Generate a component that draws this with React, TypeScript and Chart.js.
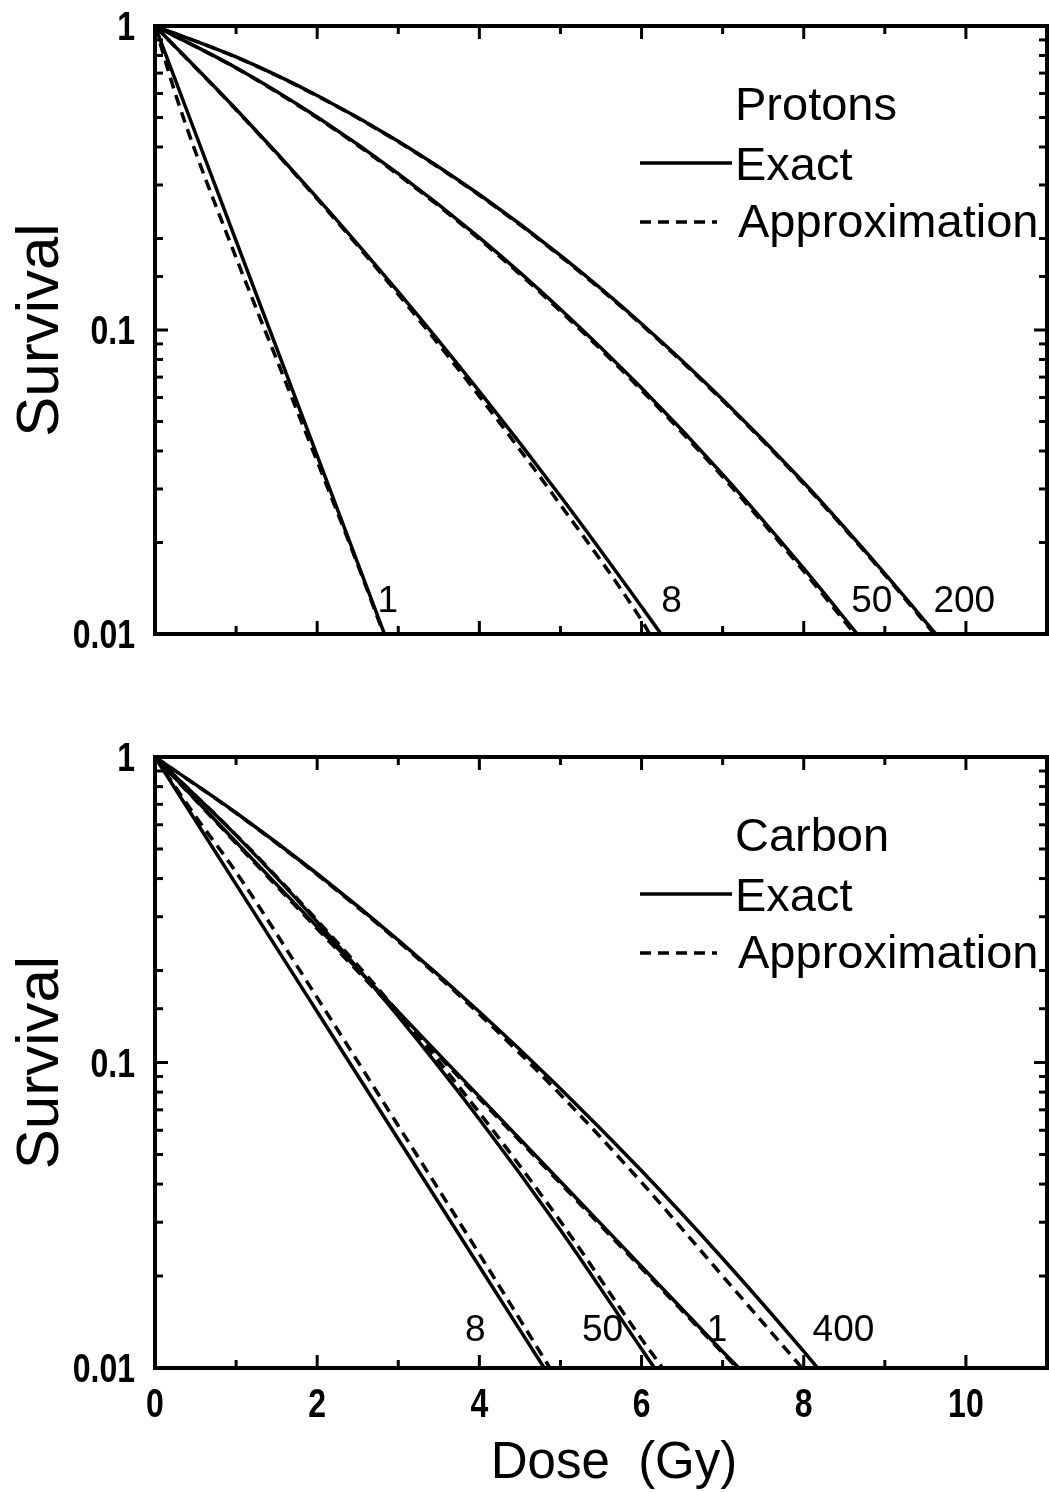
import React, { useEffect, useRef } from "react";
import { Chart, registerables } from "chart.js";

Chart.register(...registerables);

// ---- axes ----
const DOSE_MIN = 0;
const DOSE_MAX = 11;
const DOSE_TICKS = [0, 2, 4, 6, 8, 10];
const SURVIVAL_MIN = 0.01;
const SURVIVAL_MAX = 1;
const SURVIVAL_LABELS = [1, 0.1, 0.01];

// ---- protons: exact and approximate survival curves ----
const P_EXACT_1_DOSE = [0, 0.5, 1, 1.5, 2, 2.5, 2.83];
const P_EXACT_1 = [1, 0.443, 0.1965, 0.0871, 0.0386, 0.0171, 0.01];
const P_APPROX_1_DOSE = [0, 0.25, 0.5, 1, 1.5, 2, 2.5, 2.82];
const P_APPROX_1 = [1, 0.6, 0.385, 0.173, 0.08, 0.037, 0.0169, 0.01];

const P_EXACT_8_DOSE = [0, 1, 2, 3, 4, 5, 6, 6.24];
const P_EXACT_8 = [1, 0.532, 0.272, 0.1334, 0.0628, 0.0284, 0.0123, 0.01];
const P_APPROX_8_DOSE = [0, 1, 2, 3, 4, 5, 6, 6.1];
const P_APPROX_8 = [1, 0.53, 0.27, 0.131, 0.0605, 0.0266, 0.0111, 0.01];

const P_EXACT_50_DOSE = [0, 1, 2, 3, 4, 5, 6, 7, 8, 8.66];
const P_EXACT_50 = [1, 0.729, 0.502, 0.327, 0.2013, 0.1171, 0.0644, 0.0335, 0.01643, 0.01];
const P_APPROX_50_DOSE = [0, 1, 2, 3, 4, 5, 6, 7, 8, 8.63];
const P_APPROX_50 = [1, 0.727, 0.499, 0.324, 0.199, 0.1155, 0.0634, 0.0329, 0.0161, 0.01];

const P_EXACT_200_DOSE = [0, 1, 2, 3, 4, 5, 6, 7, 8, 9, 9.63];
const P_EXACT_200 = [1, 0.791, 0.591, 0.418, 0.279, 0.176, 0.1049, 0.0591, 0.0315, 0.0158, 0.01];
const P_APPROX_200_DOSE = [0, 1, 2, 3, 4, 5, 6, 7, 8, 9, 9.61];
const P_APPROX_200 = [1, 0.79, 0.589, 0.416, 0.2775, 0.1748, 0.1041, 0.0586, 0.0312, 0.01565, 0.01];

const PROTON_CURVE_LABELS = ["1", "8", "50", "200"];
const PROTON_LABEL_DOSE = [2.87, 6.37, 8.84, 9.98];
const PROTON_LABEL_SURVIVAL = 0.0128;

// ---- carbon: exact and approximate survival curves ----
const C_EXACT_8_DOSE = [0, 1, 2, 3, 4, 4.8];
const C_EXACT_8 = [1, 0.383, 0.1466, 0.0561, 0.0215, 0.01];
const C_APPROX_8_DOSE = [0, 0.5, 1, 2, 3, 4, 4.87];
const C_APPROX_8 = [1, 0.64, 0.42, 0.163, 0.0621, 0.0236, 0.01];

const C_EXACT_50_DOSE = [0, 1, 2, 3, 4, 5, 6, 6.16];
const C_EXACT_50 = [1, 0.554, 0.2887, 0.1415, 0.0652, 0.0283, 0.01154, 0.01];
const C_APPROX_50_DOSE = [0, 1, 2, 3, 4, 5, 6, 6.26];
const C_APPROX_50 = [1, 0.556, 0.292, 0.146, 0.0685, 0.0302, 0.01245, 0.01];

const C_EXACT_1_DOSE = [0, 1, 2, 3, 4, 5, 6, 7, 7.2];
const C_EXACT_1 = [1, 0.527, 0.278, 0.1466, 0.0773, 0.0408, 0.0215, 0.01133, 0.01];
const C_APPROX_1_DOSE = [0, 1, 2, 3, 4, 5, 6, 7, 7.18];
const C_APPROX_1 = [1, 0.522, 0.274, 0.1445, 0.0762, 0.0402, 0.0212, 0.0112, 0.01];

const C_EXACT_400_DOSE = [0, 1, 2, 3, 4, 5, 6, 7, 8, 8.17];
const C_EXACT_400 = [1, 0.657, 0.4148, 0.2516, 0.1466, 0.0821, 0.0442, 0.02282, 0.01133, 0.01];
const C_APPROX_400_DOSE = [0, 1, 2, 3, 4, 5, 6, 7, 7.98];
const C_APPROX_400 = [1, 0.655, 0.412, 0.249, 0.144, 0.0785, 0.0405, 0.02, 0.01];

const CARBON_CURVE_LABELS = ["8", "50", "1", "400"];
const CARBON_LABEL_DOSE = [3.95, 5.52, 6.93, 8.49];
const CARBON_LABEL_SURVIVAL = 0.0132;

const FONT = "'Liberation Sans', Arial, sans-serif";
const DASH = [11, 7];

type Curve = { dose: number[]; survival: number[]; dashed: boolean };

const pts = (dose: number[], s: number[]) => dose.map((d, i) => ({ x: d, y: s[i] }));

const PROTON_CURVES: Curve[] = [
  { dose: P_APPROX_1_DOSE, survival: P_APPROX_1, dashed: true },
  { dose: P_APPROX_8_DOSE, survival: P_APPROX_8, dashed: true },
  { dose: P_APPROX_50_DOSE, survival: P_APPROX_50, dashed: true },
  { dose: P_APPROX_200_DOSE, survival: P_APPROX_200, dashed: true },
  { dose: P_EXACT_1_DOSE, survival: P_EXACT_1, dashed: false },
  { dose: P_EXACT_8_DOSE, survival: P_EXACT_8, dashed: false },
  { dose: P_EXACT_50_DOSE, survival: P_EXACT_50, dashed: false },
  { dose: P_EXACT_200_DOSE, survival: P_EXACT_200, dashed: false },
];

const CARBON_CURVES: Curve[] = [
  { dose: C_APPROX_8_DOSE, survival: C_APPROX_8, dashed: true },
  { dose: C_APPROX_50_DOSE, survival: C_APPROX_50, dashed: true },
  { dose: C_APPROX_1_DOSE, survival: C_APPROX_1, dashed: true },
  { dose: C_APPROX_400_DOSE, survival: C_APPROX_400, dashed: true },
  { dose: C_EXACT_8_DOSE, survival: C_EXACT_8, dashed: false },
  { dose: C_EXACT_50_DOSE, survival: C_EXACT_50, dashed: false },
  { dose: C_EXACT_1_DOSE, survival: C_EXACT_1, dashed: false },
  { dose: C_EXACT_400_DOSE, survival: C_EXACT_400, dashed: false },
];

type PanelSpec = {
  ion: string;
  curves: Curve[];
  labels: string[];
  labelDose: number[];
  labelSurvival: number;
  canvasTop: number;
  height: number;
  areaTop: number;
  areaBottom: number;
  showDose: boolean;
};

const PANELS: PanelSpec[] = [
  {
    ion: "Protons",
    curves: PROTON_CURVES,
    labels: PROTON_CURVE_LABELS,
    labelDose: PROTON_LABEL_DOSE,
    labelSurvival: PROTON_LABEL_SURVIVAL,
    canvasTop: 0,
    height: 700,
    areaTop: 26,
    areaBottom: 634,
    showDose: false,
  },
  {
    ion: "Carbon",
    curves: CARBON_CURVES,
    labels: CARBON_CURVE_LABELS,
    labelDose: CARBON_LABEL_DOSE,
    labelSurvival: CARBON_LABEL_SURVIVAL,
    canvasTop: 700,
    height: 792,
    areaTop: 57,
    areaBottom: 668,
    showDose: true,
  },
];

const isDecade = (v: number) => Math.abs(Math.log10(v) - Math.round(Math.log10(v))) < 1e-6;

// Narrow, heavy digits for the axis numbers.
const TICK_FONT = `bold 40px ${FONT}`;
const TICK_SQUEEZE = 0.8;

// Frame with inward ticks on all four sides, tick numbers, legend,
// curve labels and axis titles.
const decorPlugin = {
  id: "decor",
  afterDatasetsDraw(chart: any, _args: any, opts: any) {
    const { ctx, chartArea } = chart;
    const { left, right, top, bottom } = chartArea;
    const x = chart.scales.x;
    const y = chart.scales.y;
    ctx.save();
    ctx.strokeStyle = "#000";
    ctx.fillStyle = "#000";
    ctx.lineCap = "butt";

    const seg = (x0: number, y0: number, x1: number, y1: number) => {
      ctx.beginPath();
      ctx.moveTo(x0, y0);
      ctx.lineTo(x1, y1);
      ctx.stroke();
    };
    const squeezed = (txt: string, px: number, py: number, align: string) => {
      ctx.save();
      ctx.translate(px, py);
      ctx.scale(TICK_SQUEEZE, 1);
      ctx.textAlign = align;
      ctx.textBaseline = "alphabetic";
      ctx.font = TICK_FONT;
      ctx.fillText(txt, 0, 0);
      ctx.restore();
    };

    // ticks
    ctx.lineWidth = 3;
    for (let v = Math.floor(x.min) + 1; v < x.max; v += 1) {
      const px = x.getPixelForValue(v);
      const len = v % 2 === 0 ? 13 : 8;
      seg(px, bottom, px, bottom - len);
      seg(px, top, px, top + len);
    }
    y.ticks.forEach((t: any) => {
      const v = t.value;
      if (v <= y.min * 1.0001 || v >= y.max * 0.9999) return;
      const py = y.getPixelForValue(v);
      const len = isDecade(v) ? 13 : 8;
      seg(left, py, left + len, py);
      seg(right, py, right - len, py);
    });

    // frame
    ctx.lineWidth = 4;
    ctx.strokeRect(left, top, right - left, bottom - top);

    // tick numbers
    SURVIVAL_LABELS.forEach((v) => {
      squeezed(String(v), left - 20, y.getPixelForValue(v) + 14, "right");
    });
    if (opts.showDose) {
      DOSE_TICKS.forEach((v) => {
        squeezed(String(v), x.getPixelForValue(v), bottom + 49, "center");
      });
    }

    // curve labels
    ctx.font = `37px ${FONT}`;
    ctx.textAlign = "center";
    ctx.textBaseline = "middle";
    opts.labels.forEach((txt: string, i: number) => {
      ctx.fillText(txt, x.getPixelForValue(opts.labelDose[i]), y.getPixelForValue(opts.labelSurvival));
    });

    // legend
    ctx.textAlign = "left";
    ctx.textBaseline = "alphabetic";
    ctx.font = `47px ${FONT}`;
    const textX = left + 580;
    ctx.fillText(opts.ion, textX, top + 94);
    ctx.fillText("Exact", textX, top + 154);
    ctx.fillText("Approximation", textX + 3, top + 211);
    ctx.lineWidth = 3.5;
    seg(left + 485, top + 137, left + 577, top + 137);
    ctx.setLineDash(DASH);
    seg(left + 485, top + 196, left + 562, top + 196);
    ctx.setLineDash([]);

    // y title
    ctx.save();
    ctx.translate(58, (top + bottom) / 2);
    ctx.rotate(-Math.PI / 2);
    ctx.textAlign = "center";
    ctx.font = `60px ${FONT}`;
    ctx.fillText("Survival", 0, 0);
    ctx.restore();

    // x title
    if (opts.showDose) {
      ctx.textAlign = "center";
      ctx.font = `51px ${FONT}`;
      ctx.fillText("Dose  (Gy)", (left + right) / 2 + 13, chart.height - 14);
    }
    ctx.restore();
  },
};

function buildConfig(p: PanelSpec): any {
  return {
    type: "line",
    data: {
      datasets: p.curves.map((c) => ({
        data: pts(c.dose, c.survival),
        borderColor: "#000",
        borderWidth: 3.5,
        borderDash: c.dashed ? DASH : [],
        pointRadius: 0,
        fill: false,
        cubicInterpolationMode: "monotone",
      })),
    },
    options: {
      animation: false,
      responsive: false,
      devicePixelRatio: 1,
      events: [],
      layout: { padding: { top: p.areaTop, right: 2, left: 0, bottom: 0 } },
      plugins: {
        legend: { display: false },
        tooltip: { enabled: false },
        decor: {
          ion: p.ion,
          labels: p.labels,
          labelDose: p.labelDose,
          labelSurvival: p.labelSurvival,
          showDose: p.showDose,
        },
      },
      scales: {
        x: {
          type: "linear",
          min: DOSE_MIN,
          max: DOSE_MAX,
          grid: { display: false, drawTicks: false },
          border: { display: false },
          afterBuildTicks: (s: any) => {
            s.ticks = DOSE_TICKS.map((v) => ({ value: v }));
          },
          ticks: { display: false },
          afterFit: (s: any) => {
            s.height = p.height - p.areaBottom;
          },
        },
        y: {
          type: "logarithmic",
          min: SURVIVAL_MIN,
          max: SURVIVAL_MAX,
          grid: { display: false, drawTicks: false },
          border: { display: false },
          ticks: { display: false, autoSkip: false },
          afterFit: (s: any) => {
            s.width = 155;
          },
        },
      },
    },
    plugins: [decorPlugin],
  };
}

function Panel({ spec }: { spec: PanelSpec }) {
  const ref = useRef<HTMLCanvasElement>(null);
  useEffect(() => {
    const chart = new Chart(ref.current as HTMLCanvasElement, buildConfig(spec));
    return () => chart.destroy();
  }, [spec]);
  return (
    <canvas
      ref={ref}
      width={1049}
      height={spec.height}
      style={{ position: "absolute", left: 0, top: spec.canvasTop, width: 1049, height: spec.height, display: "block" }}
    />
  );
}

export default function App() {
  return (
    <div style={{ position: "absolute", left: 0, top: 0, width: 1049, height: 1492, background: "#fff" }}>
      {PANELS.map((p) => (
        <Panel key={p.ion} spec={p} />
      ))}
    </div>
  );
}
